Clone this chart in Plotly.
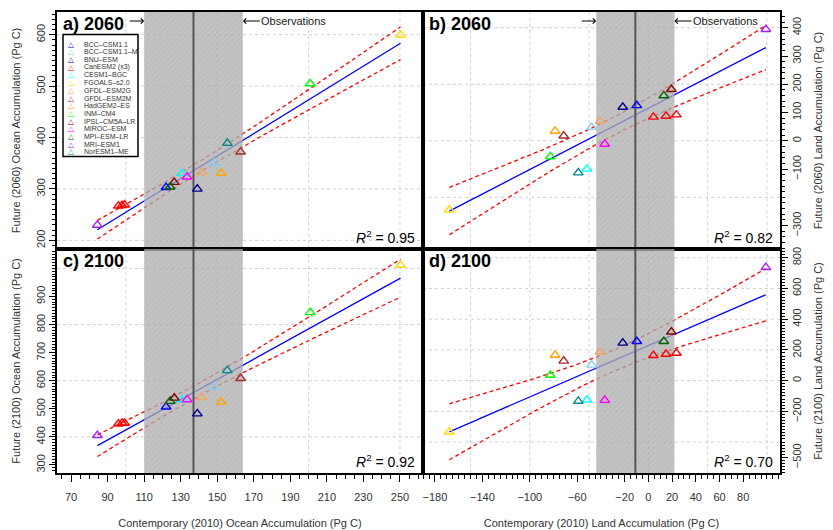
import numpy as np
import plotly.graph_objects as go
from plotly.subplots import make_subplots

# models (legend order) and their colours
models = ["BCC–CSM1.1", "BCC–CSM1.1–M", "BNU–ESM", "CanESM2 (x3)", "CESM1–BGC",
          "FGOALS–s2.0", "GFDL–ESM2G", "GFDL–ESM2M", "HadGEM2–ES", "INM–CM4",
          "IPSL–CM5A–LR", "MIROC–ESM", "MPI–ESM–LR", "MRI–ESM1", "NorESM1–ME"]
colors = ["#0000FF", "#87CEEB", "#00008B", "#FF0000", "#00FFFF",
          "#FFD700", "#F4A460", "#A52A2A", "#FFA500", "#00FF00",
          "#8B0000", "#FF00FF", "#006400", "#A020F0", "#008B8B"]

# one entry per point (CanESM2 has three members)
point_model = [0, 1, 2, 3, 3, 3, 4, 5, 6, 7, 8, 9, 10, 11, 12, 13, 14]
ocean_2010 = [122.0, 148.2, 139.1, 95.9, 97.9, 99.3, 130.7, 250.3, 141.5, 162.8,
              152.2, 200.9, 126.5, 133.5, 124.2, 84.4, 155.5]
ocean_2060 = [303, 349.7, 300, 267, 268, 269, 330, 599.6, 332, 372,
              330.6, 505, 313, 323.5, 304, 229.8, 389]
ocean_2100 = [507, 578, 482.5, 446.5, 449, 449, 533, 1012, 541, 608.6,
              524.5, 843, 538.6, 533, 527, 405.5, 636.7]
land_2010 = [-9.8, -47.8, -21.6, 4.2, 14.9, 23.6, -51.7, -167.9, -40.8, -71.4,
             -78.7, -82.7, 19.4, -36.8, 13.0, 99.1, -59.1]
land_2060 = [125, 48, 119, 84, 87.5, 92, -100, -245, 69, 17.5,
             34, -56, 182, -11.7, 160, 394.5, -113]
land_2100 = [255.6, 102, 245, 164, 172.5, 179, -126, -334, 187, 128,
             166, 36, 317, -128, 255.6, 737, -134]

obs_ocean, obs_ocean_err = 137, 27
obs_land, obs_land_err = -11, 33
r2_labels = ["0.95", "0.82", "0.92", "0.70"]
panel_labels = ["a) 2060", "b) 2060", "c) 2100", "d) 2100"]

T975 = 2.131  # t quantile, 15 dof

FONT = "Liberation Sans, Arial, sans-serif"

fig = make_subplots(rows=2, cols=2, horizontal_spacing=0, vertical_spacing=0)

panels = [
    dict(row=1, col=1, x=ocean_2010, y=ocean_2060, obs=obs_ocean, err=obs_ocean_err,
         xr=[62.3, 262.6], yr=[183.4, 644.2], xg=[100, 150, 200, 250], yg=[200, 300, 400, 500, 600]),
    dict(row=1, col=2, x=land_2010, y=land_2060, obs=obs_land, err=obs_land_err,
         xr=[-190.1, 111.0], yr=[-382.6, 455.7], xg=[-150, -100, -50, 0, 50, 100], yg=[-200, 0, 200, 400]),
    dict(row=2, col=1, x=ocean_2010, y=ocean_2100, obs=obs_ocean, err=obs_ocean_err,
         xr=[62.3, 262.6], yr=[271.5, 1069.5], xg=[100, 150, 200, 250], yg=[400, 600, 800, 1000]),
    dict(row=2, col=2, x=land_2010, y=land_2100, obs=obs_land, err=obs_land_err,
         xr=[-190.1, 111.0], yr=[-601.6, 857.6], xg=[-150, -100, -50, 0, 50, 100],
         yg=[-400, -200, 0, 200, 400, 600, 800]),
]

for k, p in enumerate(panels):
    r, c = p["row"], p["col"]
    x = np.array(p["x"], dtype=float)
    y = np.array(p["y"], dtype=float)
    n = len(x)
    b, a = np.polyfit(x, y, 1)
    resid = y - (a + b * x)
    s = np.sqrt((resid ** 2).sum() / (n - 2))
    xs = np.linspace(x.min(), x.max(), 100)
    yhat = a + b * xs
    half = T975 * s * np.sqrt(1 / n + (xs - x.mean()) ** 2 / ((x - x.mean()) ** 2).sum())

    # confidence band and fit
    for band in (yhat + half, yhat - half):
        fig.add_trace(go.Scatter(x=xs, y=band, mode="lines", showlegend=False, hoverinfo="skip",
                                 line=dict(color="#FF0000", width=1.3, dash="4px,3px")), row=r, col=c)
    fig.add_trace(go.Scatter(x=xs, y=yhat, mode="lines", showlegend=False, hoverinfo="skip",
                             line=dict(color="#0000FF", width=1.3)), row=r, col=c)

    # observational range, drawn over the lines
    lo, hi = p["obs"] - p["err"], p["obs"] + p["err"]
    y0, y1 = p["yr"]
    fig.add_trace(go.Scatter(x=[lo, hi, hi, lo, lo], y=[y0, y0, y1, y1, y0], mode="lines",
                             fill="toself", line=dict(width=0), showlegend=False, hoverinfo="skip",
                             fillcolor="rgba(175,175,175,0.75)",
                             fillpattern=dict(shape="/", size=4, solidity=0.15,
                                              fgcolor="rgba(140,140,140,0.6)",
                                              bgcolor="rgba(175,175,175,0.76)")),
                  row=r, col=c)
    fig.add_trace(go.Scatter(x=[p["obs"], p["obs"]], y=[y0, y1], mode="lines", showlegend=False,
                             hoverinfo="skip", line=dict(color="#555555", width=2)), row=r, col=c)

    # models
    for m, name in enumerate(models):
        idx = [i for i, pm in enumerate(point_model) if pm == m]
        fig.add_trace(go.Scatter(x=[p["x"][i] for i in idx], y=[p["y"][i] for i in idx],
                                 mode="markers", name=name, showlegend=False,
                                 marker=dict(symbol="triangle-up-open", size=8.5, color=colors[m],
                                             line=dict(width=1.4, color=colors[m]))),
                      row=r, col=c)

    # grid lines
    xa = "x" if k == 0 else "x%d" % (k + 1)
    ya = "y" if k == 0 else "y%d" % (k + 1)
    for gx in p["xg"]:
        fig.add_shape(type="line", xref=xa, yref=ya + " domain", x0=gx, x1=gx, y0=0, y1=1,
                      line=dict(color="#D0D0D0", width=1, dash="dot"), layer="below")
    for gy in p["yg"]:
        fig.add_shape(type="line", xref=xa + " domain", yref=ya, x0=0, x1=1, y0=gy, y1=gy,
                      line=dict(color="#D0D0D0", width=1, dash="dot"), layer="below")

    fig.add_annotation(xref=xa + " domain", yref=ya + " domain", x=0.01, y=1.0,
                       xanchor="left", yanchor="top", showarrow=False,
                       text="<b>%s</b>" % panel_labels[k], font=dict(size=18, color="black", family=FONT))
    fig.add_annotation(xref=xa + " domain", yref=ya + " domain", x=0.985, y=0.005,
                       xanchor="right", yanchor="bottom", showarrow=False,
                       text="<i>R</i><sup>2</sup> = %s" % r2_labels[k],
                       font=dict(size=14, color="black", family=FONT))

    if r == 1:
        # "Observations" arrows
        fig.add_annotation(xref=xa, yref=ya + " domain", x=lo, y=0.962, ax=-16, ay=0,
                           axref="pixel", ayref="pixel", text="", showarrow=True,
                           arrowhead=4, arrowsize=1, arrowwidth=1, arrowcolor="black")
        fig.add_annotation(xref=xa, yref=ya + " domain", x=hi, y=0.962, ax=51, ay=0,
                           axref="pixel", ayref="pixel", text="Observations", showarrow=True,
                           arrowhead=4, arrowsize=1, arrowwidth=1, arrowcolor="black",
                           font=dict(size=11, color="#222", family=FONT))

# legend drawn by hand inside panel a
fig.add_shape(type="rect", xref="x domain", yref="y domain", x0=0.0164, x1=0.2213, y0=0.39, y1=0.9046,
              line=dict(color="black", width=1.5), fillcolor="white", layer="above")
for m, name in enumerate(models):
    ly = 1 - (32.7 + 7.83 * m) / 241
    fig.add_annotation(xref="x domain", yref="y domain", x=0.037, y=ly, xanchor="center", yanchor="middle",
                       showarrow=False, text="<b>△</b>",
                       font=dict(size=7.5, color=colors[m], family="DejaVu Sans"))
    fig.add_annotation(xref="x domain", yref="y domain", x=0.069, y=ly, xanchor="left", yanchor="middle",
                       showarrow=False, text=name, font=dict(size=7, color="#333", family=FONT))

# axes
axis_common = dict(showline=True, linecolor="black", linewidth=1.5, mirror=True,
                   showgrid=False, zeroline=False, tickfont=dict(size=11, color="#333", family=FONT),
                   ticks="outside", tickcolor="black", ticklen=6, tickwidth=1)
title_font = dict(size=11, color="#333", family=FONT)

ocean_ticks = list(range(70, 251, 20))
land_ticks = [-180, -140, -100, -60, -20, 0, 20, 40, 60, 80]

fig.update_layout(
    xaxis=dict(axis_common, domain=[0, 0.5062], range=panels[0]["xr"], showticklabels=False, ticks=""),
    xaxis2=dict(axis_common, domain=[0.5062, 1], range=panels[1]["xr"], showticklabels=False, ticks=""),
    xaxis3=dict(axis_common, domain=[0, 0.5062], range=panels[2]["xr"], tickvals=ocean_ticks,
                ticklen=7, ticklabelstandoff=6,
                minor=dict(dtick=5, tick0=70, ticklen=4, ticks="outside", tickcolor="black"),
                title=dict(text="Contemporary (2010) Ocean Accumulation (Pg C)", font=title_font, standoff=17)),
    xaxis4=dict(axis_common, domain=[0.5062, 1], range=panels[3]["xr"], tickvals=land_ticks,
                ticklen=7, ticklabelstandoff=6,
                minor=dict(dtick=5, tick0=0, ticklen=4, ticks="outside", tickcolor="black"),
                title=dict(text="Contemporary (2010) Land Accumulation (Pg C)", font=title_font, standoff=17)),
    yaxis=dict(axis_common, domain=[0.4861, 1], range=panels[0]["yr"], tickvals=[200, 300, 400, 500, 600],
               tickangle=-90, minor=dict(dtick=10, tick0=0, ticklen=3, ticks="outside", tickcolor="black"),
               title=dict(text="Future (2060) Ocean Accumulation (Pg C)", font=title_font, standoff=12)),
    yaxis3=dict(axis_common, domain=[0, 0.4861], range=panels[2]["yr"],
                tickvals=[300, 400, 500, 600, 700, 800, 900],
                tickangle=-90, minor=dict(dtick=10, tick0=0, ticklen=3, ticks="outside", tickcolor="black"),
                title=dict(text="Future (2100) Ocean Accumulation (Pg C)", font=title_font, standoff=12)),
    yaxis2=dict(axis_common, domain=[0.4861, 1], range=panels[1]["yr"], side="right",
                tickvals=[-300, -100, 0, 100, 200, 300, 400],
                tickangle=-90, minor=dict(dtick=20, tick0=0, ticklen=3, ticks="outside", tickcolor="black"),
                title=dict(text="Future (2060) Land Accumulation (Pg C)", font=title_font, standoff=12)),
    yaxis4=dict(axis_common, domain=[0, 0.4861], range=panels[3]["yr"], side="right",
                tickvals=[-500, -200, 0, 200, 400, 600, 800],
                tickangle=-90, minor=dict(dtick=20, tick0=0, ticklen=3, ticks="outside", tickcolor="black"),
                title=dict(text="Future (2100) Land Accumulation (Pg C)", font=title_font, standoff=12)),
)

# the page adds an 8 px body margin on the top/left, so the figure is 8 px smaller
fig.update_layout(
    width=825, height=522,
    margin=dict(l=49, r=53, t=2, b=51),
    plot_bgcolor="white", paper_bgcolor="white",
    font=dict(family=FONT, color="#222"),
    showlegend=False,
)

fig.write_html("out.html")
